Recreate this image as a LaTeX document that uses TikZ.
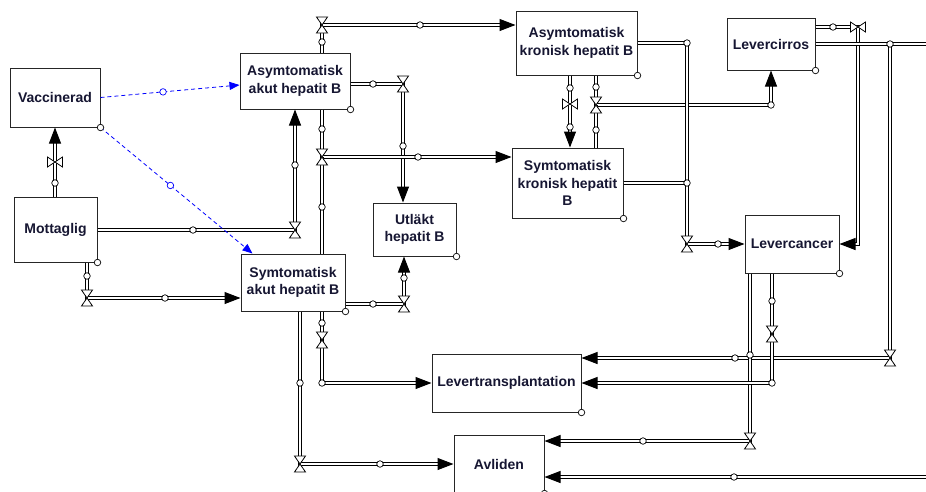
\documentclass[tikz,border=0pt]{standalone}
\usepackage{fontspec}
\setmainfont{Liberation Sans}
\usetikzlibrary{arrows.meta}
\definecolor{ink}{RGB}{22,22,50}
\tikzset{
    stock/.style={draw=black!85,line width=1pt,fill=white,align=center,inner sep=0pt,text=ink,font=\bfseries\fontsize{14}{17.5}\selectfont},
    pipe/.style={draw=black,line width=1pt,double=white,double distance=2pt},
    flow/.style={pipe,-{Triangle[length=16pt,width=12pt]}},
    knob/.style={circle,draw=black,fill=white,line width=0.7pt,inner sep=0pt,minimum size=6.5pt},
    link/.style={draw=blue,dashed,line width=0.8pt,dash pattern=on 4pt off 3pt,-{Triangle[length=10pt,width=8pt]}},
    linkknob/.style={knob,solid,draw=blue},
    gate/.pic={\draw[line width=0.8pt,fill=white] (-5.5,-8)--(5.5,-8)--(0,0)--cycle (-5.5,8)--(5.5,8)--(0,0)--cycle;},
    sidegate/.pic={\draw[line width=0.8pt,fill=white] (-7.5,-5)--(-7.5,5)--(0,0)--cycle (7.5,-5)--(7.5,5)--(0,0)--cycle;}
}
\begin{document}
\begin{tikzpicture}[x=1pt,y=-1pt]
\useasboundingbox (0,0) rectangle (926,491);

\node[stock,minimum width=90pt,minimum height=59pt] (vacc) at (55,97.5) {Vaccinerad};
\node[stock,minimum width=83pt,minimum height=65pt] (mott) at (55.5,229.5) {Mottaglig};
\node[stock,minimum width=110pt,minimum height=56pt] (aakut) at (295,81) {Asymtomatisk\\akut hepatit B};
\node[stock,minimum width=104pt,minimum height=57pt] (sakut) at (293,282.5) {Symtomatisk\\akut hepatit B};
\node[stock,minimum width=83pt,minimum height=53pt] (utl) at (414.5,229.5) {Utläkt\\hepatit B};
\node[stock,minimum width=121pt,minimum height=64pt] (akron) at (576.5,43) {Asymtomatisk\\kronisk hepatit B};
\node[stock,minimum width=111pt,minimum height=70pt] (skron) at (567.5,183) {Symtomatisk\\kronisk hepatit\\B};
\node[stock,minimum width=88pt,minimum height=52pt] (cirr) at (771,44) {Levercirros};
\node[stock,minimum width=94pt,minimum height=58pt] (canc) at (792,244) {Levercancer};
\node[stock,minimum width=149pt,minimum height=58pt] (transp) at (506.5,383) {Levertransplantation};
\node[stock,minimum width=90pt,minimum height=58pt] (avl) at (499,464) {Avliden};

\coordinate (g0) at (55,162);
\coordinate (g1) at (295,230);
\coordinate (g2) at (87,298);
\coordinate (g3) at (322,25);
\coordinate (g4) at (403,84);
\coordinate (g5) at (322,157);
\coordinate (g6) at (322,340);
\coordinate (c1) at (322,383);
\coordinate (g7) at (300,464);
\coordinate (g8) at (404,304);
\coordinate (g9) at (570,104);
\coordinate (g10) at (596,105);
\coordinate (g11) at (687,244);
\coordinate (g12) at (858,27);
\coordinate (c2) at (890,44);
\coordinate (g13) at (890,358);
\coordinate (edge1) at (928,44);
\coordinate (g14) at (750,441);
\coordinate (g15) at (772,334);
\coordinate (c3) at (772,383);
\coordinate (edge2) at (928,477);

\draw[flow] (vacc.south |- mott.north) -- (vacc.south);
\draw[flow] (mott.east |- g1) -- (g1) -- (aakut.south -| g1);
\draw[flow] (mott.south -| g2) -- (g2) -- (sakut.west |- g2);
\draw[flow] (aakut.north -| g3) -- (g3) -- (akron.west |- g3);
\draw[flow] (aakut.east |- g4) -- (g4) -- (utl.north -| g4);
\draw[flow] (aakut.south -| g5) -- (g5) -- (skron.west |- g5);
\draw[pipe] (sakut.north -| g5) -- (g5);
\draw[flow] (sakut.south -| c1) -- (c1) -- (transp.west |- c1);
\draw[flow] (sakut.south -| g7) -- (g7) -- (avl.west |- g7);
\draw[flow] (sakut.east |- g8) -- (g8) -- (utl.south -| g8);
\draw[flow] (akron.south -| g9) -- (skron.north -| g9);
\draw[flow] (akron.south -| g10) -- (g10) -| (cirr.south);
\draw[pipe] (skron.north -| g10) -- (g10);
\draw[flow] (akron.east) -| (g11) -- (canc.west);
\draw[pipe] (skron.east) -- (skron.east -| g11);
\draw[flow] (cirr.east |- g12) -- (g12) |- (canc.east);
\draw[flow] (cirr.east) -- (c2) -- (g13) -- (transp.east |- g13);
\draw[pipe] (c2) -- (edge1);
\draw[flow] (canc.south -| g14) -- (g14) -- (avl.east |- g14);
\draw[flow] (canc.south -| c3) -- (c3) -- (transp.east |- c3);
\draw[flow] (edge2) -- (avl.east |- edge2);

\draw[link] (vacc.east) -- node[linkknob,pos=0.45] (l1) {} ([yshift=-4pt]aakut.west);
\draw[link] (vacc.south east) -- node[linkknob,pos=0.46] (l2) {} ([xshift=12pt]sakut.north west);

\pic at (g1) {gate};
\pic at (g2) {gate};
\pic at (g3) {gate};
\pic at (g4) {gate};
\pic at (g5) {gate};
\pic at (g6) {gate};
\pic at (g7) {gate};
\pic at (g8) {gate};
\pic at (g10) {gate};
\pic at (g11) {gate};
\pic at (g13) {gate};
\pic at (g14) {gate};
\pic at (g15) {gate};
\pic at (g0) {sidegate};
\pic at (g9) {sidegate};
\pic at (g12) {sidegate};

\node[knob] (k1) at (55,183) {};
\node[knob] (k2) at (193,230) {};
\node[knob] (k3) at (295,165) {};
\node[knob] (k4) at (87,276) {};
\node[knob] (k5) at (165,298) {};
\node[knob] (k6) at (322,42) {};
\node[knob] (k7) at (420,25) {};
\node[knob] (k8) at (373,84) {};
\node[knob] (k9) at (403,146) {};
\node[knob] (k10) at (322,129) {};
\node[knob] (k11) at (418,157) {};
\node[knob] (k12) at (322,207) {};
\node[knob] (k13) at (322,323) {};
\node[knob] (k14) at (c1) {};
\node[knob] (k15) at (300,383) {};
\node[knob] (k16) at (380,464) {};
\node[knob] (k17) at (373,304) {};
\node[knob] (k18) at (404,278) {};
\node[knob] (k19) at (570,88) {};
\node[knob] (k20) at (570,127) {};
\node[knob] (k21) at (596,87) {};
\node[knob] (k22) at (596,130) {};
\node[knob] (k23) at (771,105) {};
\node[knob] (k24) at (687,43) {};
\node[knob] (k25) at (687,183) {};
\node[knob] (k26) at (718,244) {};
\node[knob] (k27) at (833,27) {};
\node[knob] (k28) at (c2) {};
\node[knob] (k29) at (735,358) {};
\node[knob] (k30) at (750,355) {};
\node[knob] (k31) at (643,441) {};
\node[knob] (k32) at (772,301) {};
\node[knob] (k33) at (c3) {};
\node[knob] (k34) at (734,477) {};

\node[knob] (vacck) at (vacc.south east) {};
\node[knob] (mottk) at (mott.south east) {};
\node[knob] (aakutk) at (aakut.south east) {};
\node[knob] (sakutk) at (sakut.south east) {};
\node[knob] (utlk) at (utl.south east) {};
\node[knob] (akronk) at (akron.south east) {};
\node[knob] (skronk) at (skron.south east) {};
\node[knob] (cirrk) at (cirr.south east) {};
\node[knob] (canck) at (canc.south east) {};
\node[knob] (transpk) at (transp.south east) {};
\node[knob] (avlk) at (avl.south east) {};
\end{tikzpicture}
\end{document}
